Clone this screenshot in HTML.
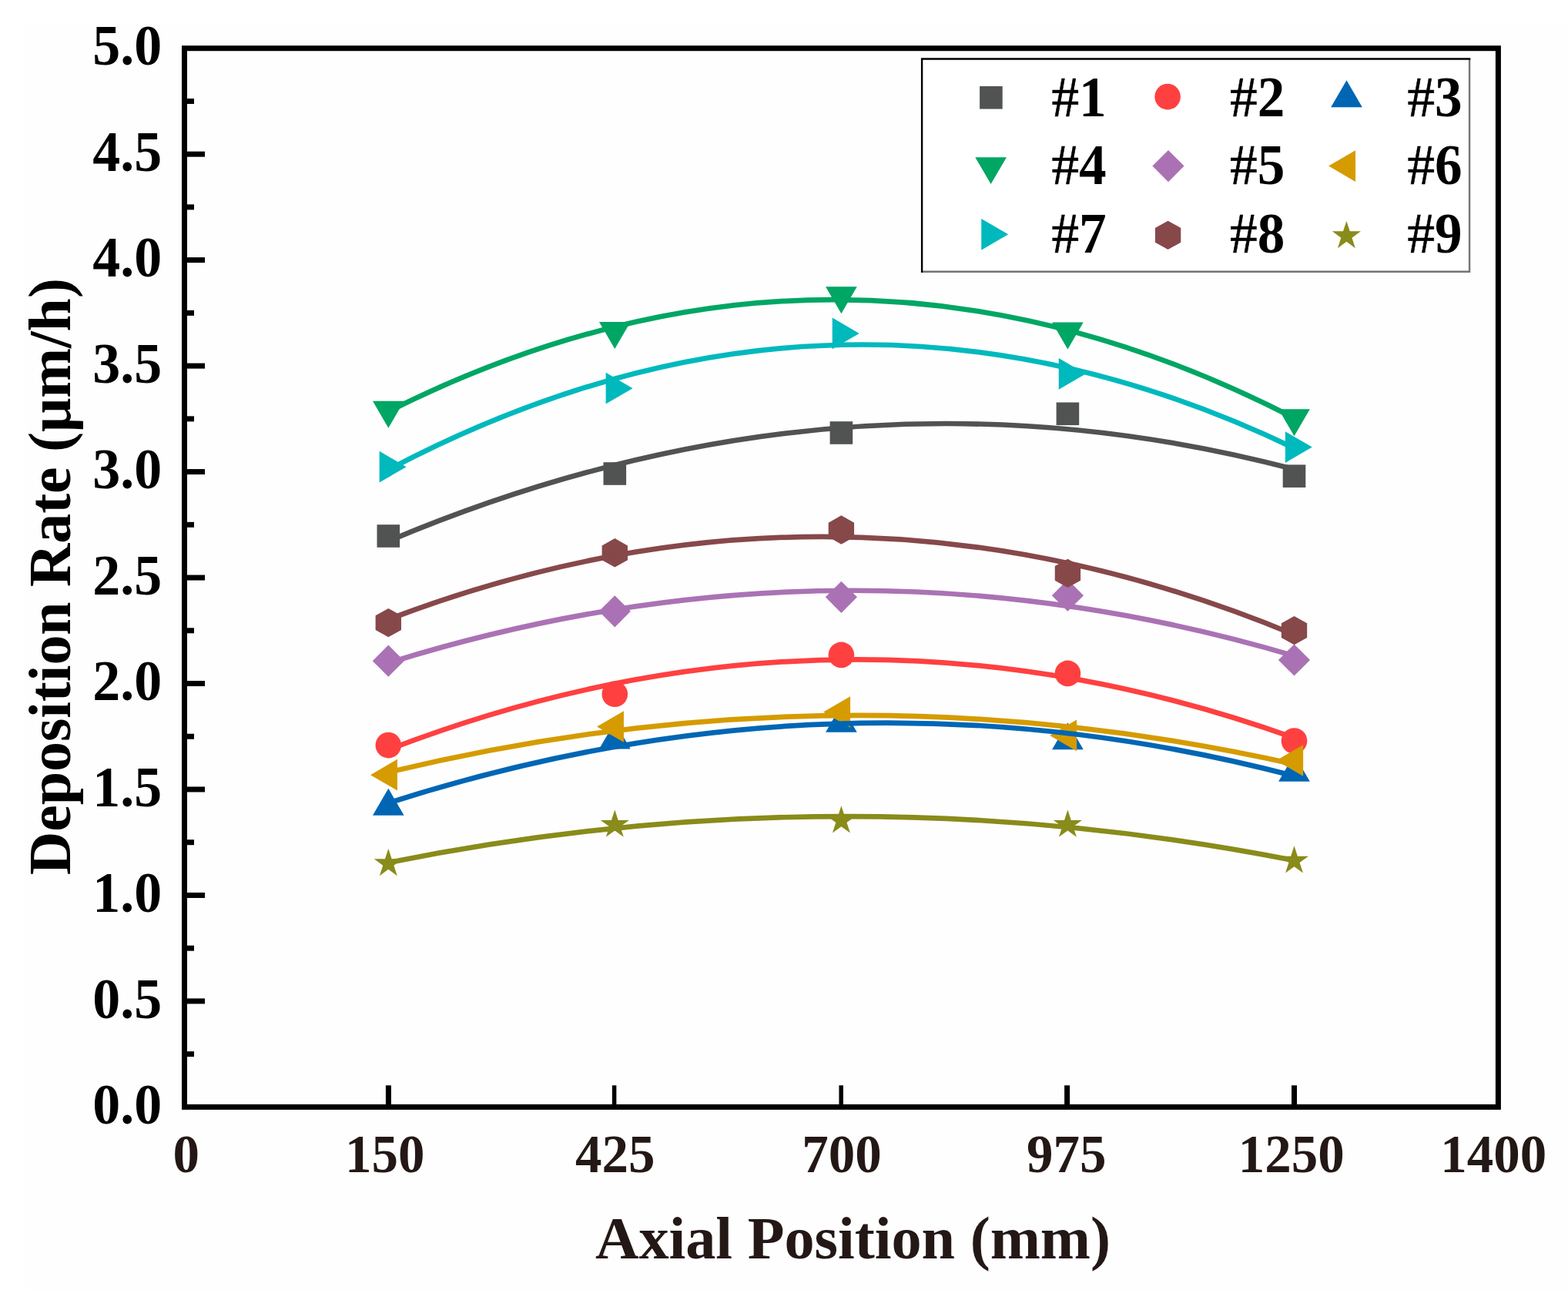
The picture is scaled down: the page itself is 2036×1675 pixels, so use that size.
<!DOCTYPE html>
<html lang="en"><head><meta charset="utf-8"><title>Deposition Rate vs Axial Position</title>
<style>
html,body{margin:0;padding:0;background:#fff;}
body{width:2036px;height:1675px;overflow:hidden;}
svg{display:block;}
text{font-family:"Liberation Serif","DejaVu Serif",serif;font-weight:bold;}
.yl{font-size:73px;fill:#000;text-anchor:end;}
.xl{font-size:69px;fill:#231815;text-anchor:middle;}
.tt{font-size:78px;fill:#231815;text-anchor:middle;}
.yt{font-size:78px;fill:#000;text-anchor:middle;}
.lg{font-size:73px;fill:#000;}
.hs{font-weight:normal;stroke:#000;stroke-width:0.6px;}
</style></head><body>
<svg width="2036" height="1675" viewBox="0 0 2036 1675">
<rect width="2036" height="1675" fill="#fff"/>
<rect x="33" y="30" width="2003" height="1645" fill="#fefefe"/>
<g id="markers">
<rect x="489.5" y="681.2" width="29.6" height="29.6" fill="#515352"/>
<rect x="783.5" y="600.2" width="29.6" height="29.6" fill="#515352"/>
<rect x="1077.6" y="547.2" width="29.6" height="29.6" fill="#515352"/>
<rect x="1371.6" y="522.5" width="29.6" height="29.6" fill="#515352"/>
<rect x="1665.7" y="603.4" width="29.6" height="29.6" fill="#515352"/>
<circle cx="504.3" cy="967.6" r="16.8" fill="#FF4040"/>
<circle cx="798.3" cy="901.3" r="16.8" fill="#FF4040"/>
<circle cx="1092.4" cy="850.4" r="16.8" fill="#FF4040"/>
<circle cx="1386.4" cy="874.4" r="16.8" fill="#FF4040"/>
<circle cx="1680.5" cy="962" r="16.8" fill="#FF4040"/>
<polygon points="504.3,1023.8 524.65,1058.75 483.95,1058.75" fill="#0066B4"/>
<polygon points="798.3,937.65 818.65,972.6 777.95,972.6" fill="#0066B4"/>
<polygon points="1092.4,915.7 1112.75,950.65 1072.05,950.65" fill="#0066B4"/>
<polygon points="1386.4,938.2 1406.75,973.15 1366.05,973.15" fill="#0066B4"/>
<polygon points="1680.5,979.7 1700.85,1014.65 1660.15,1014.65" fill="#0066B4"/>
<polygon points="504.3,555.8 524.65,520.85 483.95,520.85" fill="#00A664"/>
<polygon points="798.3,452.95 818.65,418 777.95,418" fill="#00A664"/>
<polygon points="1092.4,407.3 1112.75,372.35 1072.05,372.35" fill="#00A664"/>
<polygon points="1386.4,453.5 1406.75,418.55 1366.05,418.55" fill="#00A664"/>
<polygon points="1680.5,566.2 1700.85,531.25 1660.15,531.25" fill="#00A664"/>
<polygon points="504.3,837.6 524.9,858.2 504.3,878.8 483.7,858.2" fill="#AA72B4"/>
<polygon points="798.3,773.2 818.9,793.8 798.3,814.4 777.7,793.8" fill="#AA72B4"/>
<polygon points="1092.4,754.7 1113,775.3 1092.4,795.9 1071.8,775.3" fill="#AA72B4"/>
<polygon points="1386.4,752.6 1407,773.2 1386.4,793.8 1365.8,773.2" fill="#AA72B4"/>
<polygon points="1680.5,836.4 1701.1,857 1680.5,877.6 1659.9,857" fill="#AA72B4"/>
<polygon points="481,1006.2 515.95,985.85 515.95,1026.55" fill="#D59B00"/>
<polygon points="775,943.5 809.95,923.15 809.95,963.85" fill="#D59B00"/>
<polygon points="1069.1,924.5 1104.05,904.15 1104.05,944.85" fill="#D59B00"/>
<polygon points="1363.1,954.9 1398.05,934.55 1398.05,975.25" fill="#D59B00"/>
<polygon points="1657.2,987.4 1692.15,967.05 1692.15,1007.75" fill="#D59B00"/>
<polygon points="527.6,606.2 492.65,585.85 492.65,626.55" fill="#00B9BD"/>
<polygon points="821.6,504.2 786.65,483.85 786.65,524.55" fill="#00B9BD"/>
<polygon points="1115.7,432.9 1080.75,412.55 1080.75,453.25" fill="#00B9BD"/>
<polygon points="1409.7,485.4 1374.75,465.05 1374.75,505.75" fill="#00B9BD"/>
<polygon points="1703.8,580.6 1668.85,560.25 1668.85,600.95" fill="#00B9BD"/>
<polygon points="504.3,789.9 520.98,799.25 520.98,817.95 504.3,827.3 487.62,817.95 487.62,799.25" fill="#87484A"/>
<polygon points="798.3,699.1 814.98,708.45 814.98,727.15 798.3,736.5 781.62,727.15 781.62,708.45" fill="#87484A"/>
<polygon points="1092.4,669.3 1109.08,678.65 1109.08,697.35 1092.4,706.7 1075.72,697.35 1075.72,678.65" fill="#87484A"/>
<polygon points="1386.4,725.7 1403.08,735.05 1403.08,753.75 1386.4,763.1 1369.72,753.75 1369.72,735.05" fill="#87484A"/>
<polygon points="1680.5,799.9 1697.18,809.25 1697.18,827.95 1680.5,837.3 1663.82,827.95 1663.82,809.25" fill="#87484A"/>
<polygon points="504.3,1101.9 508.68,1115.37 522.85,1115.37 511.38,1123.7 515.76,1137.18 504.3,1128.85 492.84,1137.18 497.22,1123.7 485.75,1115.37 499.92,1115.37" fill="#898B1A"/>
<polygon points="798.3,1051.5 802.68,1064.97 816.85,1064.97 805.38,1073.3 809.76,1086.78 798.3,1078.45 786.84,1086.78 791.22,1073.3 779.75,1064.97 793.92,1064.97" fill="#898B1A"/>
<polygon points="1092.4,1046.2 1096.78,1059.67 1110.95,1059.67 1099.48,1068 1103.86,1081.48 1092.4,1073.15 1080.94,1081.48 1085.32,1068 1073.85,1059.67 1088.02,1059.67" fill="#898B1A"/>
<polygon points="1386.4,1051.5 1390.78,1064.97 1404.95,1064.97 1393.48,1073.3 1397.86,1086.78 1386.4,1078.45 1374.94,1086.78 1379.32,1073.3 1367.85,1064.97 1382.02,1064.97" fill="#898B1A"/>
<polygon points="1680.5,1098.3 1684.88,1111.77 1699.05,1111.77 1687.58,1120.1 1691.96,1133.58 1680.5,1125.25 1669.04,1133.58 1673.42,1120.1 1661.95,1111.77 1676.12,1111.77" fill="#898B1A"/>
</g>
<g id="fits" fill="none" stroke-width="6.7" stroke-linecap="butt">
<path d="M504.3,702.66 Q1092.4,454.8 1680.5,609.34" stroke="#515352"/>
<path d="M504.3,973.43 Q1092.4,747.13 1680.5,958.19" stroke="#FF4040"/>
<path d="M504.3,1042.66 Q1092.4,853.85 1680.5,1007.6" stroke="#0066B4"/>
<path d="M504.3,534.29 Q1092.4,239.73 1680.5,542.83" stroke="#00A664"/>
<path d="M504.3,860.79 Q1092.4,677.44 1680.5,851.59" stroke="#AA72B4"/>
<path d="M504.3,1002.8 Q1092.4,860.53 1680.5,992.32" stroke="#D59B00"/>
<path d="M504.3,609.89 Q1092.4,299.77 1680.5,581.89" stroke="#00B9BD"/>
<path d="M504.3,804.35 Q1092.4,580.01 1680.5,823.99" stroke="#87484A"/>
<path d="M504.3,1120.11 Q1092.4,1001.52 1680.5,1117.23" stroke="#898B1A"/>
</g>
<rect x="239.5" y="62.7" width="1705.9" height="1374.7" fill="none" stroke="#000" stroke-width="7"/>
<g fill="#000"><rect x="239.5" y="127.94" width="12.5" height="7"/><rect x="239.5" y="196.67" width="26.5" height="7"/><rect x="239.5" y="265.4" width="12.5" height="7"/><rect x="239.5" y="334.14" width="26.5" height="7"/><rect x="239.5" y="402.88" width="12.5" height="7"/><rect x="239.5" y="471.61" width="26.5" height="7"/><rect x="239.5" y="540.35" width="12.5" height="7"/><rect x="239.5" y="609.08" width="26.5" height="7"/><rect x="239.5" y="677.82" width="12.5" height="7"/><rect x="239.5" y="746.55" width="26.5" height="7"/><rect x="239.5" y="815.29" width="12.5" height="7"/><rect x="239.5" y="884.02" width="26.5" height="7"/><rect x="239.5" y="952.75" width="12.5" height="7"/><rect x="239.5" y="1021.49" width="26.5" height="7"/><rect x="239.5" y="1090.23" width="12.5" height="7"/><rect x="239.5" y="1158.96" width="26.5" height="7"/><rect x="239.5" y="1227.69" width="12.5" height="7"/><rect x="239.5" y="1296.43" width="26.5" height="7"/><rect x="239.5" y="1365.16" width="12.5" height="7"/><rect x="500.9" y="1409.3" width="7" height="28.1"/><rect x="794.85" y="1409.3" width="5.5" height="28.1"/><rect x="1089.45" y="1409.3" width="5.5" height="28.1"/><rect x="1382.1" y="1409.3" width="7" height="28.1"/><rect x="1677" y="1409.3" width="7" height="28.1"/></g>
<g class="yl">
<text transform="translate(210.2,84.3) scale(0.985,1)">5.0</text>
<text transform="translate(210.2,221.77) scale(0.985,1)">4.5</text>
<text transform="translate(210.2,359.24) scale(0.985,1)">4.0</text>
<text transform="translate(210.2,496.71) scale(0.985,1)">3.5</text>
<text transform="translate(210.2,634.18) scale(0.985,1)">3.0</text>
<text transform="translate(210.2,771.65) scale(0.985,1)">2.5</text>
<text transform="translate(210.2,909.12) scale(0.985,1)">2.0</text>
<text transform="translate(210.2,1046.59) scale(0.985,1)">1.5</text>
<text transform="translate(210.2,1184.06) scale(0.985,1)">1.0</text>
<text transform="translate(210.2,1321.53) scale(0.985,1)">0.5</text>
<text transform="translate(210.2,1459) scale(0.985,1)">0.0</text>
</g>
<g class="xl">
<text x="241.75" y="1521.5">0</text>
<text x="499.8" y="1521.5">150</text>
<text x="798.85" y="1521.5">425</text>
<text x="1093.0" y="1521.5">700</text>
<text x="1384.7" y="1521.5">975</text>
<text x="1676.8" y="1521.5">1250</text>
<text x="1939.3" y="1521.5">1400</text>
</g>
<text class="tt" transform="translate(1107.5,1634.2) scale(1.003,1.015)">Axial Position (mm)</text>
<text class="yt" transform="translate(90.5,748.6) rotate(-90) scale(0.998,1.012)">Deposition Rate (μm/h)</text>
<g id="legend">
<rect x="1197" y="76.5" width="711.2" height="276.3" fill="#fff" stroke="none"/>
<path d="M1908.1,76.5 V352.8 H1196" fill="none" stroke="#747474" stroke-width="2.4"/>
<path d="M1197.1,354 V76.5 H1909.3" fill="none" stroke="#000" stroke-width="2.4"/>
<rect x="1272.1" y="111.9" width="29.6" height="29.6" fill="#515352"/>
<text class="lg" transform="translate(1365.5,151.1) scale(0.975,1)"><tspan class="hs">#</tspan>1</text>
<circle cx="1516.1" cy="125.6" r="16.8" fill="#FF4040"/>
<text class="lg" transform="translate(1597.1,151.1) scale(0.975,1)"><tspan class="hs">#</tspan>2</text>
<polygon points="1748.5,104.3 1768.85,139.25 1728.15,139.25" fill="#0066B4"/>
<text class="lg" transform="translate(1827.5,151.1) scale(0.975,1)"><tspan class="hs">#</tspan>3</text>
<polygon points="1286.6,239.1 1306.95,204.15 1266.25,204.15" fill="#00A664"/>
<text class="lg" transform="translate(1365.5,238.6) scale(0.975,1)"><tspan class="hs">#</tspan>4</text>
<polygon points="1517,195 1537.6,215.6 1517,236.2 1496.4,215.6" fill="#AA72B4"/>
<text class="lg" transform="translate(1597.1,238.6) scale(0.975,1)"><tspan class="hs">#</tspan>5</text>
<polygon points="1725.1,215.6 1760.05,195.25 1760.05,235.95" fill="#D59B00"/>
<text class="lg" transform="translate(1827.5,238.6) scale(0.975,1)"><tspan class="hs">#</tspan>6</text>
<polygon points="1309.2,304.3 1274.25,283.95 1274.25,324.65" fill="#00B9BD"/>
<text class="lg" transform="translate(1365.5,328.2) scale(0.975,1)"><tspan class="hs">#</tspan>7</text>
<polygon points="1516.6,286.7 1533.28,296.05 1533.28,314.75 1516.6,324.1 1499.92,314.75 1499.92,296.05" fill="#87484A"/>
<text class="lg" transform="translate(1597.1,328.2) scale(0.975,1)"><tspan class="hs">#</tspan>8</text>
<polygon points="1748.4,286.9 1752.78,300.37 1766.95,300.37 1755.48,308.7 1759.86,322.18 1748.4,313.85 1736.94,322.18 1741.32,308.7 1729.85,300.37 1744.02,300.37" fill="#898B1A"/>
<text class="lg" transform="translate(1827.5,328.2) scale(0.975,1)"><tspan class="hs">#</tspan>9</text>
</g>
</svg></body></html>
